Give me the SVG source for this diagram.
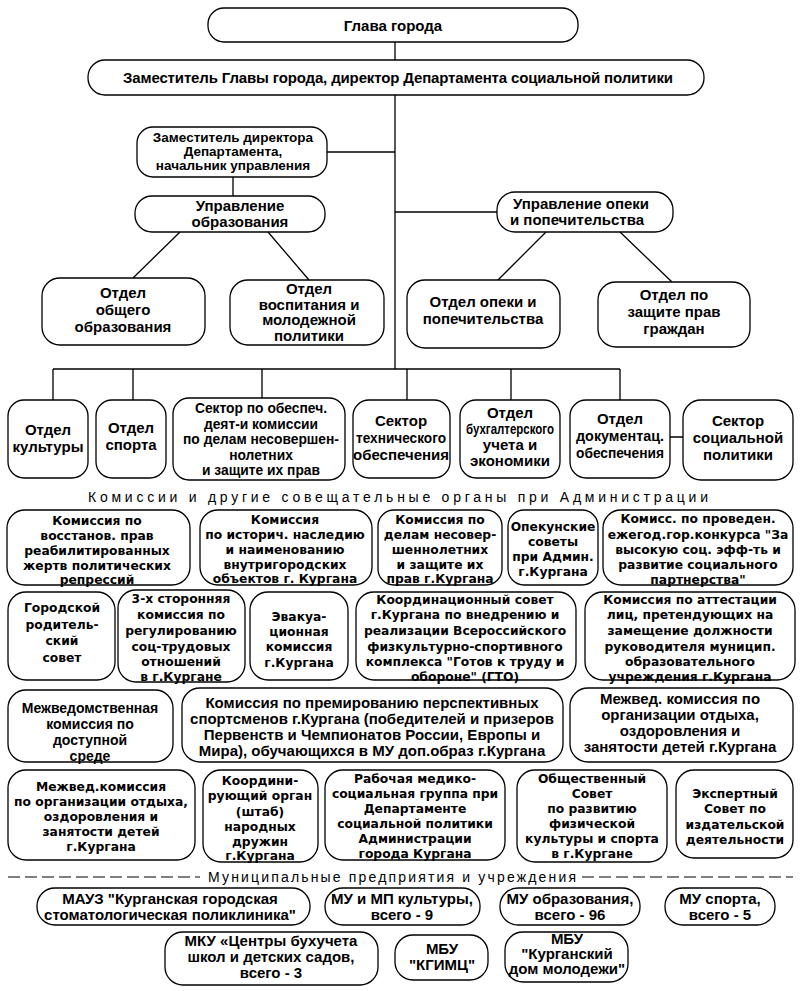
<svg xmlns="http://www.w3.org/2000/svg" width="800" height="991" viewBox="0 0 800 991">
<style>
.b{fill:#fff;stroke:#000;stroke-width:1.3}
.c{fill:none;stroke:#000;stroke-width:1.3}
.n{font-family:"Liberation Sans",Arial,sans-serif;font-weight:bold;font-size:15px;text-anchor:middle;fill:#000}
.s{font-size:13.8px}
.v{font-family:"DejaVu Sans",Verdana,sans-serif;font-weight:bold;font-size:12.3px;text-anchor:middle;fill:#000}
.h{font-family:"Liberation Sans",Arial,sans-serif;font-size:14px;text-anchor:middle;fill:#000}
.d{fill:none;stroke:#000;stroke-width:1.2;stroke-dasharray:12 5}
</style>
<rect width="800" height="991" fill="#fff"/>
<g id="connectors">
<path class="c" d="M395 42V60M395 95V369M327 152H395M233 177V196M395 212H497M180 232L133 278M268 232L309 280M546 232L497 281M620 232L672 282M53 369H620M53 369V400M133 369V400M262 369V398M407 369V400M511 369V400M620 369V400M670 437H683"/>
</g>
<g id="n1"><rect class="b" x="208" y="8" width="370" height="34" rx="16"/><text class="n" x="393" y="31">Глава  города</text></g>
<g id="n2"><rect class="b" x="88" y="60" width="616" height="35" rx="17"/><text class="n" x="398" y="83" textLength="550">Заместитель  Главы  города,  директор  Департамента  социальной  политики</text></g>
<g id="n3"><rect class="b" x="137" y="127" width="190" height="50" rx="16"/><text class="n" x="233" y="142" style="font-size:13.5px">Заместитель директора</text><text class="n" x="233" y="156" style="font-size:13.5px">Департамента,</text><text class="n" x="233" y="170" style="font-size:13.5px">начальник  управления</text></g>
<g id="n4"><rect class="b" x="135" y="196" width="190" height="36" rx="17"/><text class="n" x="240" y="211">Управление</text><text class="n" x="240" y="227">образования</text></g>
<g id="n5"><rect class="b" x="497" y="192" width="176" height="40" rx="18"/><text class="n" x="581" y="209">Управление опеки</text><text class="n" x="577" y="225">и попечительства</text></g>
<g id="n6"><rect class="b" x="42" y="278" width="163" height="67" rx="18"/><text class="n" x="123" y="298">Отдел</text><text class="n" x="123" y="315">общего</text><text class="n" x="123" y="332">образования</text></g>
<g id="n7"><rect class="b" x="230" y="280" width="154" height="65" rx="18"/><text class="n" x="309" y="294">Отдел</text><text class="n" x="309" y="310">воспитания и</text><text class="n" x="309" y="325">молодежной</text><text class="n" x="309" y="341">политики</text></g>
<g id="n8"><rect class="b" x="407" y="280" width="153" height="68" rx="18"/><text class="n" x="483" y="307">Отдел опеки и</text><text class="n" x="483" y="324">попечительства</text></g>
<g id="n9"><rect class="b" x="598" y="282" width="152" height="65" rx="18"/><text class="n" x="674" y="300">Отдел по</text><text class="n" x="674" y="317">защите прав</text><text class="n" x="674" y="334">граждан</text></g>
<g id="n10"><rect class="b" x="8" y="400" width="80" height="78" rx="16"/><text class="n" x="48" y="435">Отдел</text><text class="n" x="48" y="452">культуры</text></g>
<g id="n11"><rect class="b" x="96" y="400" width="70" height="78" rx="16"/><text class="n" x="131" y="433">Отдел</text><text class="n" x="131" y="450">спорта</text></g>
<g id="n12"><rect class="b" x="173" y="398" width="172" height="82" rx="16"/><text class="n s" x="261" y="413">Сектор по обеспеч.</text><text class="n s" x="261" y="428.5">деят-и комиссии</text><text class="n s" x="261" y="444">по делам несовершен-</text><text class="n s" x="261" y="459.5">нолетних</text><text class="n s" x="261" y="475">и защите их прав</text></g>
<g id="n13"><rect class="b" x="353" y="400" width="97" height="78" rx="16"/><text class="n" x="401" y="426">Сектор</text><text class="n" x="401" y="443" textLength="90" lengthAdjust="spacingAndGlyphs">технического</text><text class="n" x="401" y="460">обеспечения</text></g>
<g id="n14"><rect class="b" x="460" y="400" width="100" height="78" rx="16"/><text class="n" x="510" y="418">Отдел</text><text class="n" x="510" y="434" textLength="88" lengthAdjust="spacingAndGlyphs">бухгалтерского</text><text class="n" x="510" y="450">учета и</text><text class="n" x="510" y="466">экономики</text></g>
<g id="n15"><rect class="b" x="570" y="400" width="100" height="78" rx="16"/><text class="n" x="620" y="424">Отдел</text><text class="n" x="620" y="441" textLength="88" lengthAdjust="spacingAndGlyphs">документац.</text><text class="n" x="620" y="458" textLength="88" lengthAdjust="spacingAndGlyphs">обеспечения</text></g>
<g id="n16"><rect class="b" x="683" y="400" width="110" height="80" rx="18"/><text class="n" x="738" y="426">Сектор</text><text class="n" x="738" y="443">социальной</text><text class="n" x="738" y="460">политики</text></g>
<text class="h" x="398" y="502" textLength="620" lengthAdjust="spacing">Комиссии и другие совещательные органы при Администрации</text>
<g id="k1"><rect class="b" x="7" y="510" width="183" height="75" rx="18"/><text class="v" x="97" y="525">Комиссия по</text><text class="v" x="97" y="540">восстанов. прав</text><text class="v" x="97" y="555">реабилитированных</text><text class="v" x="97" y="570">жертв политических</text><text class="v" x="97" y="584">репрессий</text></g>
<g id="k2"><rect class="b" x="200" y="510" width="172" height="75" rx="18"/><text class="v" x="285" y="524">Комиссия</text><text class="v" x="285" y="539">по историч. наследию</text><text class="v" x="285" y="554">и наименованию</text><text class="v" x="285" y="569">внутригородских</text><text class="v" x="285" y="583">объектов г. Кургана</text></g>
<g id="k3"><rect class="b" x="378" y="510" width="124" height="75" rx="16"/><text class="v" x="440" y="524">Комиссия  по</text><text class="v" x="440" y="539">делам несовер-</text><text class="v" x="440" y="554">шеннолетних</text><text class="v" x="440" y="569">и защите их</text><text class="v" x="440" y="583">прав г.Кургана</text></g>
<g id="k4"><rect class="b" x="508" y="510" width="90" height="75" rx="16"/><text class="v" x="553" y="531">Опекунские</text><text class="v" x="553" y="546">советы</text><text class="v" x="553" y="561">при Админ.</text><text class="v" x="553" y="576">г.Кургана</text></g>
<g id="k5"><rect class="b" x="603" y="510" width="190" height="75" rx="18"/><text class="v" x="698" y="523">Комисс.  по проведен.</text><text class="v" x="698" y="539">ежегод.гор.конкурса "За</text><text class="v" x="698" y="554">высокую соц. эфф-ть и</text><text class="v" x="698" y="569">развитие социального</text><text class="v" x="698" y="584">партнерства"</text></g>
<g id="k6"><rect class="b" x="8" y="592" width="107" height="88" rx="18"/><text class="v" x="62" y="612">Городской</text><text class="v" x="62" y="629">родитель-</text><text class="v" x="62" y="645">ский</text><text class="v" x="62" y="662">совет</text></g>
<g id="k7"><rect class="b" x="118" y="590" width="127" height="92" rx="18"/><text class="v" x="181" y="603">3-х сторонняя</text><text class="v" x="181" y="619">комиссия по</text><text class="v" x="181" y="635">регулированию</text><text class="v" x="181" y="651">соц-трудовых</text><text class="v" x="181" y="666">отношений</text><text class="v" x="181" y="681">в  г.Кургане</text></g>
<g id="k8"><rect class="b" x="250" y="592" width="98" height="88" rx="18"/><text class="v" x="299" y="621">Эвакуа-</text><text class="v" x="299" y="636">ционная</text><text class="v" x="299" y="651">комиссия</text><text class="v" x="299" y="667">г.Кургана</text></g>
<g id="k9"><rect class="b" x="356" y="592" width="220" height="88" rx="18"/><text class="v" x="465" y="604">Координационный совет</text><text class="v" x="465" y="619">г.Кургана по внедрению и</text><text class="v" x="465" y="635">реализации Всероссийского</text><text class="v" x="465" y="651">физкультурно-спортивного</text><text class="v" x="465" y="666">комплекса "Готов к труду и</text><text class="v" x="465" y="681">обороне" (ГТО)</text></g>
<g id="k10"><rect class="b" x="585" y="592" width="210" height="88" rx="18"/><text class="v" x="690" y="604">Комиссия по аттестации</text><text class="v" x="690" y="619">лиц, претендующих на</text><text class="v" x="690" y="635">замещение должности</text><text class="v" x="690" y="651">руководителя муницип.</text><text class="v" x="690" y="666">образовательного</text><text class="v" x="690" y="681">учреждения г.Кургана</text></g>
<g id="k11"><rect class="b" x="8" y="690" width="165" height="72" rx="18"/><text class="n" x="90" y="713" style="font-size:14px">Межведомственная</text><text class="n" x="90" y="729" style="font-size:14px">комиссия по</text><text class="n" x="90" y="745" style="font-size:14px">доступной</text><text class="n" x="90" y="761" style="font-size:14px">среде</text></g>
<g id="k12"><rect class="b" x="182" y="688" width="381" height="74" rx="18"/><text class="n" x="372" y="708">Комиссия по премированию перспективных</text><text class="n" x="372" y="724">спортсменов г.Кургана (победителей и призеров</text><text class="n" x="372" y="740">Первенств и Чемпионатов России, Европы и</text><text class="n" x="372" y="756">Мира), обучающихся в МУ доп.образ г.Кургана</text></g>
<g id="k13"><rect class="b" x="570" y="688" width="223" height="74" rx="18"/><text class="n" x="680" y="704">Межвед. комиссия по</text><text class="n" x="680" y="720">организации отдыха,</text><text class="n" x="680" y="736">оздоровления и</text><text class="n" x="680" y="752">занятости детей г.Кургана</text></g>
<g id="k14"><rect class="b" x="8" y="770" width="187" height="90" rx="18"/><text class="v" x="101" y="791">Межвед.комиссия</text><text class="v" x="101" y="806">по организации отдыха,</text><text class="v" x="101" y="821">оздоровления и</text><text class="v" x="101" y="836">занятости детей</text><text class="v" x="101" y="851">г.Кургана</text></g>
<g id="k15"><rect class="b" x="203" y="770" width="115" height="92" rx="18"/><text class="v" x="260" y="785">Координи-</text><text class="v" x="260" y="800">рующий орган</text><text class="v" x="260" y="816">(штаб)</text><text class="v" x="260" y="831">народных</text><text class="v" x="260" y="846">дружин</text><text class="v" x="260" y="860">г.Кургана</text></g>
<g id="k16"><rect class="b" x="325" y="770" width="180" height="90" rx="18"/><text class="v" x="415" y="783">Рабочая медико-</text><text class="v" x="415" y="798">социальная группа при</text><text class="v" x="415" y="813">Департаменте</text><text class="v" x="415" y="828">социальной политики</text><text class="v" x="415" y="843">Администрации</text><text class="v" x="415" y="858">города Кургана</text></g>
<g id="k17"><rect class="b" x="517" y="770" width="150" height="92" rx="18"/><text class="v" x="592" y="783">Общественный</text><text class="v" x="592" y="798">Совет</text><text class="v" x="592" y="813">по развитию</text><text class="v" x="592" y="828">физической</text><text class="v" x="592" y="843">культуры и спорта</text><text class="v" x="592" y="858">в г.Кургане</text></g>
<g id="k18"><rect class="b" x="676" y="770" width="117" height="88" rx="18"/><text class="v" x="735" y="798">Экспертный</text><text class="v" x="735" y="813">Совет по</text><text class="v" x="735" y="829">издательской</text><text class="v" x="735" y="844">деятельности</text></g>
<path class="d" d="M8 877H200M582 877H793"/>
<text class="h" x="392" y="882" textLength="368" lengthAdjust="spacing">Муниципальные  предприятия и учреждения</text>
<g id="m1"><rect class="b" x="37" y="888" width="273" height="37" rx="18"/><text class="n" x="170" y="904">МАУЗ   "Курганская городская</text><text class="n" x="170" y="920">стоматологическая поликлиника"</text></g>
<g id="m2"><rect class="b" x="325" y="888" width="155" height="37" rx="18"/><text class="n" x="402" y="904">МУ и МП культуры,</text><text class="n" x="402" y="920">всего - 9</text></g>
<g id="m3"><rect class="b" x="500" y="888" width="140" height="37" rx="18"/><text class="n" x="570" y="904">МУ   образования,</text><text class="n" x="570" y="920">всего - 96</text></g>
<g id="m4"><rect class="b" x="665" y="888" width="110" height="37" rx="18"/><text class="n" x="720" y="904">МУ  спорта,</text><text class="n" x="720" y="920">всего - 5</text></g>
<g id="m5"><rect class="b" x="165" y="932" width="213" height="53" rx="18"/><text class="n" x="271" y="946">МКУ «Центры бухучета</text><text class="n" x="271" y="962">школ и детских садов,</text><text class="n" x="271" y="978">всего - 3</text></g>
<g id="m6"><rect class="b" x="395" y="935" width="93" height="45" rx="18"/><text class="n" x="442" y="954">МБУ</text><text class="n" x="442" y="970">"КГИМЦ"</text></g>
<g id="m7"><rect class="b" x="505" y="932" width="123" height="50" rx="18"/><text class="n" x="567" y="944">МБУ</text><text class="n" x="567" y="959">"Курганский</text><text class="n" x="567" y="974">дом молодежи"</text></g>
</svg>
